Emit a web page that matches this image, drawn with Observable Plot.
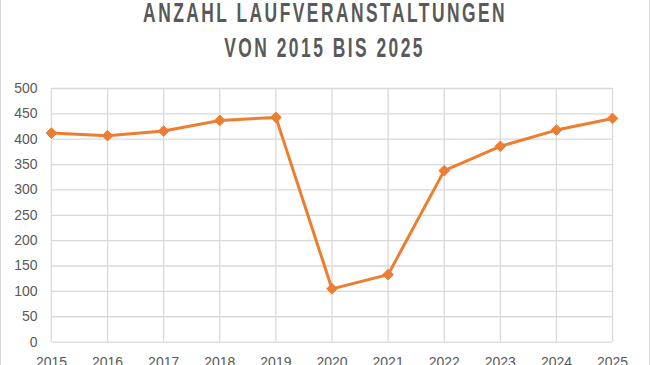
<!DOCTYPE html>
<html>
<head>
<meta charset="utf-8">
<script src="https://cdn.jsdelivr.net/npm/d3@7"></script>
<script src="https://cdn.jsdelivr.net/npm/@observablehq/plot@0.6"></script>
<style>
  html, body { margin: 0; padding: 0; background: #fff; overflow: hidden; }
  #wrap { position: relative; width: 648px; height: 400px; border-left: 1px solid #d9d9d9; border-right: 1px solid #d9d9d9; }
  .tline { position: absolute; left: 0; width: 648px; text-align: center; white-space: nowrap; }
  .tline span { display: inline-block; font-family: "Liberation Sans", Arial, sans-serif;
    font-weight: bold; font-size: 28px; line-height: 26px; letter-spacing: 4px; color: #595959; transform-origin: 50% 50%; }
  #chart { position: absolute; left: -1px; top: 80px; }
</style>
</head>
<body>
<div id="wrap">
  <div class="tline" style="top:0px"><span id="t1">ANZAHL LAUFVERANSTALTUNGEN</span></div>
  <div class="tline" style="top:35px"><span id="t2">VON 2015 BIS 2025</span></div>
  <div id="chart"></div>
</div>
<script>
const years = [2015, 2016, 2017, 2018, 2019, 2020, 2021, 2022, 2023, 2024, 2025];
const counts = [412, 407, 416, 437, 443, 105, 133, 338, 386, 418, 441];
const yTicks = [0, 50, 100, 150, 200, 250, 300, 350, 400, 450, 500];

const data = years.map((y, i) => ({year: y, count: counts[i]}));

// condense the title to the reference's narrow look
const t1 = document.getElementById("t1"), t2 = document.getElementById("t2");
const s = 364 / t1.getBoundingClientRect().width;
t1.style.transform = `scaleX(${s})`;
t2.style.transform = `scaleX(${s})`;

const chart = Plot.plot({
  width: 650,
  height: 300,
  marginTop: 8,
  marginBottom: 38,
  marginLeft: 51,
  marginRight: 37,
  style: {fontFamily: "'Liberation Sans', Arial, sans-serif", fontSize: "14px", color: "#595959", background: "transparent"},
  x: {domain: [2015, 2025], ticks: years, tickFormat: d => String(d), label: null},
  y: {domain: [0, 500], ticks: yTicks, label: null},
  marks: [
    Plot.gridX(years, {stroke: "#d9d9d9", strokeOpacity: 1, strokeWidth: 1.3}),
    Plot.gridY(yTicks, {stroke: "#d9d9d9", strokeOpacity: 1, strokeWidth: 1.3}),
    Plot.axisX({ticks: years, tickFormat: d => String(d), tickSize: 0, tickPadding: 15, fill: "#595959", label: null}),
    Plot.axisY({ticks: yTicks, tickSize: 0, tickPadding: 14, fill: "#595959", label: null}),
    Plot.line(data, {x: "year", y: "count", stroke: "#ED7D31", strokeWidth: 3, strokeLinejoin: "round"}),
    Plot.dot(data, {x: "year", y: "count", symbol: "diamond2", r: 4.8, fill: "#ED7D31", stroke: "#ED7D31", strokeWidth: 1})
  ]
});
document.getElementById("chart").appendChild(chart);
</script>
</body>
</html>
